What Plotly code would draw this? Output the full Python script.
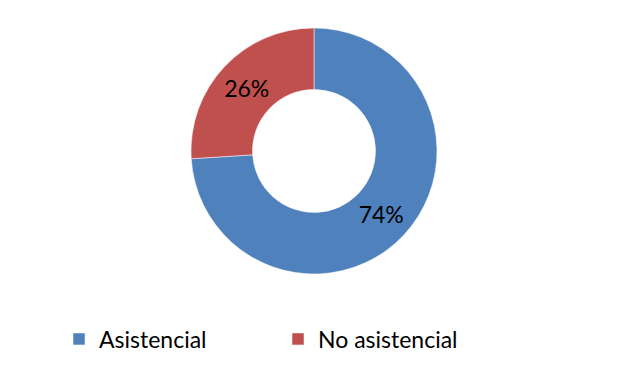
import plotly.graph_objects as go

labels = ["Asistencial", "No asistencial"]
values = [74, 26]
colors = ["#4F81BD", "#C0504D"]

W, H = 621, 369
cx, cy, r = 306, 143, 123

fig = go.Figure(go.Pie(
    labels=labels, values=values, hole=0.5, sort=False,
    direction="clockwise", rotation=0,
    marker=dict(colors=colors, line=dict(color="white", width=0.5)),
    textinfo="percent", textposition="inside",
    insidetextorientation="horizontal",
    texttemplate="%{percent:.0%}",
    textfont=dict(family="Lato", size=23, color="black"),
    domain=dict(x=[(cx - r) / W, (cx + r) / W], y=[1 - (cy + r) / H, 1 - (cy - r) / H]),
))
fig.update_layout(
    width=W, height=H, margin=dict(l=0, r=0, t=0, b=0),
    paper_bgcolor="white", plot_bgcolor="white",
    font=dict(family="Lato", size=23, color="black"),
    legend=dict(orientation="h", x=51 / W, xanchor="left", y=1 - 331 / H, yanchor="middle",
                entrywidth=174, entrywidthmode="pixels", itemwidth=30,
                font=dict(family="Lato", size=23, color="black")),
)
fig.write_html("out.html")
